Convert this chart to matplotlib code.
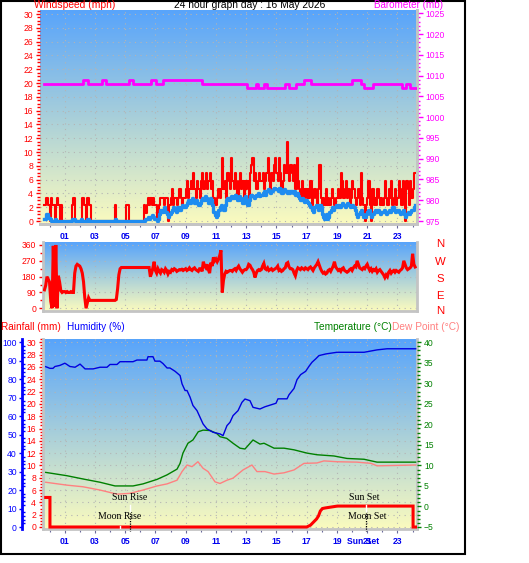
import numpy as np
import matplotlib
matplotlib.use("Agg")
import matplotlib.pyplot as plt
from matplotlib.colors import LinearSegmentedColormap
from matplotlib.ticker import MultipleLocator, FixedLocator, NullFormatter
from matplotlib.patches import Rectangle
from matplotlib.transforms import blended_transform_factory

# ---------------- data ----------------
title = "24 hour graph day : 16 May 2026"
hour_ticks = [1, 3, 5, 7, 9, 11, 13, 15, 17, 19, 21, 23]
hour_labels = ["01", "03", "05", "07", "09", "11", "13", "15", "17", "19", "21", "23"]

# 5-minute samples, first sample at 23:40 of the previous day
sample_start_h = -4 / 12
wind_gust_mph = [
    2.3, 3.4, 3.4, 2.3,
    0, 3.4, 2.3, 2.3, 0, 2.3, 3.4, 2.3, 0, 2.3, 0, 0,
    0, 0, 0, 0, 0, 0, 2.3, 3.4, 0, 0, 0, 0,
    0, 0, 3.4, 2.3, 2.3, 0, 3.4, 2.3, 2.3, 0, 0, 0,
    0, 0, 0, 0, 0, 0, 0, 0, 0, 0, 0, 0,
    0, 0, 0, 0, 2.3, 0, 0, 0, 0, 0, 0, 0,
    0, 2.3, 2.3, 0, 0, 0, 0, 0, 0, 0, 0, 0,
    0, 0, 0, 2.3, 1.2, 2.3, 3.4, 2.3, 3.4, 2.3, 3.4, 2.3,
    2.3, 0, 0, 2.3, 3.4, 3.4, 3.4, 2.3, 3.4, 3.4, 0, 2.3,
    3.4, 4.6, 2.3, 3.4, 3.4, 2.3, 3.4, 4.6, 3.4, 2.3, 3.4, 3.4,
    4.6, 5.8, 3.4, 4.6, 5.8, 4.6, 6.9, 4.6, 3.4, 5.8, 4.6, 3.4,
    5.8, 6.9, 4.6, 5.8, 6.9, 4.6, 5.8, 6.9, 4.6, 5.8, 3.4, 2.3,
    2.3, 3.4, 4.6, 3.4, 4.6, 9.2, 4.6, 5.8, 3.4, 6.9, 5.8, 4.6,
    9.2, 5.8, 4.6, 6.9, 5.8, 3.4, 5.8, 6.9, 4.6, 5.8, 3.4, 5.8,
    4.6, 5.8, 3.4, 6.9, 8.1, 9.2, 5.8, 6.9, 4.6, 5.8, 6.9, 5.8,
    5.8, 6.9, 4.6, 5.8, 6.9, 9.2, 5.8, 4.6, 6.9, 5.8, 8.1, 9.2,
    6.9, 5.8, 9.2, 6.9, 4.6, 5.8, 8.1, 6.9, 11.5, 6.9, 5.8, 8.1,
    6.9, 5.8, 8.1, 4.6, 9.2, 5.8, 4.6, 3.4, 5.8, 4.6, 3.4, 4.6,
    3.4, 4.6, 3.4, 5.8, 2.3, 3.4, 4.6, 3.4, 2.3, 4.6, 8.1, 3.4,
    2.3, 3.4, 2.3, 4.6, 2.3, 3.4, 2.3, 3.4, 4.6, 3.4, 2.3, 3.4,
    3.4, 4.6, 3.4, 6.9, 5.8, 3.4, 4.6, 5.8, 3.4, 4.6, 2.3, 3.4,
    5.8, 4.6, 3.4, 2.3, 3.4, 4.6, 2.3, 6.9, 3.4, 2.3, 0, 2.3,
    3.4, 5.8, 2.3, 0, 4.6, 2.3, 3.4, 2.3, 4.6, 3.4, 2.3, 3.4,
    2.3, 3.4, 5.8, 3.4, 2.3, 4.6, 3.4, 5.8, 2.3, 3.4, 4.6, 2.3,
    3.4, 5.8, 4.6, 2.3, 5.8, 3.4, 0, 5.8, 4.6, 2.3, 5.8, 3.4,
    4.6, 6.9, 6.9,
]
wind_avg_mph = [
    0.3, 1.0, 1.0, 0.5,
    0.3, 0, 0, 0, 0.3, 0, 0, 0, 0, 0, 0, 0,
    0, 0, 0, 0, 0, 0, 0.3, 0.3, 0, 0, 0, 0,
    0, 0.3, 0, 0, 0, 0, 0.3, 0, 0, 0, 0, 0,
    0, 0, 0, 0, 0, 0, 0, 0, 0, 0, 0, 0,
    0, 0, 0, 0, 0.3, 0, 0, 0, 0, 0, 0, 0,
    0, 0, 0, 0, 0, 0, 0, 0, 0, 0, 0, 0,
    0, 0, 0, 0, 0.3, 0.3, 0.6, 0.3, 0.6, 0.9, 0.6, 0.3,
    0.3, 0, 0.3, 1.0, 1.6, 1.3, 1.6, 2.0, 1.3, 1.0, 0.6, 1.0,
    1.3, 1.6, 2.0, 1.6, 1.3, 2.0, 2.0, 1.6, 2.0, 2.3, 2.0, 2.0,
    2.3, 2.6, 3.0, 2.6, 3.0, 3.3, 3.0, 2.6, 3.0, 2.6, 2.3, 2.6,
    3.0, 3.3, 3.0, 3.6, 3.3, 3.0, 2.6, 3.3, 3.0, 2.3, 1.3, 0.9,
    0.6, 0.9, 1.6, 2.0, 2.3, 2.0, 1.6, 2.3, 3.0, 3.3, 3.0, 3.3,
    3.6, 3.3, 3.6, 3.8, 3.3, 3.0, 3.6, 3.3, 3.0, 2.6, 3.3, 3.6,
    3.0, 2.3, 3.0, 3.6, 3.8, 3.6, 3.3, 3.6, 3.8, 4.0, 3.6, 3.8,
    3.8, 4.0, 4.3, 3.8, 4.3, 4.6, 4.3, 4.0, 4.3, 4.6, 4.8, 4.6,
    4.6, 4.3, 4.8, 4.6, 4.0, 4.3, 4.6, 4.3, 4.0, 4.3, 4.0, 4.3,
    4.3, 4.0, 4.3, 3.8, 4.0, 3.6, 3.3, 3.0, 3.3, 3.0, 2.8, 3.0,
    2.8, 2.6, 2.3, 2.0, 1.6, 1.3, 2.0, 2.3, 2.0, 1.6, 2.3, 2.0,
    1.0, 0.6, 0.3, 1.0, 0.3, 0.6, 1.3, 1.6, 2.0, 1.6, 2.0, 2.3,
    2.0, 2.3, 2.0, 2.3, 2.6, 2.3, 2.0, 2.3, 2.6, 2.3, 2.0, 2.3,
    2.3, 2.0, 1.6, 1.0, 0.6, 1.0, 1.3, 1.6, 1.0, 0.6, 0.6, 1.0,
    1.3, 1.6, 1.0, 0.6, 1.0, 1.3, 1.6, 1.3, 1.6, 1.3, 1.0, 1.3,
    1.3, 1.6, 1.3, 1.0, 1.3, 1.6, 1.3, 1.6, 2.0, 1.6, 1.3, 1.6,
    1.6, 1.3, 1.0, 1.3, 1.6, 1.0, 0.6, 1.0, 1.3, 1.0, 1.3, 1.6,
    1.6, 2.0, 2.3,
]
wind_dir_deg = [
    105, 130, 180, 165,
    150, 40, 0, 355, 10, 360, 0, 185, 150, 100, 90, 95,
    95, 90, 95, 90, 90, 95, 90, 90, 200, 240, 250, 245,
    240, 225, 200, 150, 60, 0, 30, 60, 45, 45, 45, 45,
    45, 45, 45, 45, 45, 45, 45, 45, 45, 45, 45, 45,
    45, 45, 45, 45, 45, 50, 110, 190, 225, 232, 232, 232,
    232, 232, 232, 232, 232, 232, 232, 232, 232, 232, 232, 232,
    232, 232, 232, 232, 232, 232, 232, 232, 180, 200, 230, 265,
    215, 200, 225, 210, 200, 220, 215, 205, 225, 215, 195, 210,
    205, 220, 215, 225, 220, 210, 215, 220, 218, 222, 215, 220,
    225, 215, 220, 230, 220, 215, 225, 230, 220, 215, 210, 225,
    225, 210, 265, 240, 230, 250, 220, 200, 260, 240, 290, 270,
    280, 265, 280, 300, 330, 90, 160, 195, 210, 205, 210, 215,
    215, 210, 220, 225, 215, 230, 240, 225, 215, 205, 215, 220,
    220, 230, 250, 245, 230, 220, 205, 175, 200, 215, 220, 215,
    220, 240, 255, 225, 220, 230, 215, 220, 225, 215, 220, 225,
    230, 240, 215, 220, 210, 215, 225, 230, 255, 260, 235, 225,
    225, 220, 200, 185, 215, 230, 225, 220, 230, 225, 220, 230,
    225, 220, 230, 235, 225, 215, 230, 240, 250, 265, 245, 225,
    210, 200, 205, 195, 200, 215, 220, 210, 225, 240, 265, 235,
    225, 215, 220, 210, 225, 230, 215, 210, 205, 210, 220, 225,
    215, 230, 240, 235, 270, 250, 230, 225, 220, 230, 225, 240,
    250, 230, 215, 225, 210, 220, 215, 225, 205, 215, 220, 210,
    200, 190, 175, 190, 180, 205, 215, 200, 210, 215, 205, 215,
    210, 205, 215, 220, 230, 270, 250, 230, 220, 225, 230, 240,
    310, 250, 235,
]

baro_hours = [-0.38, 2.23, 2.53, 3.44, 3.75, 5.24, 5.53, 6.72, 7.01, 7.49, 10.05,
              13.07, 13.62, 13.77, 14.21, 14.39, 15.58, 15.80, 16.31, 16.81, 17.30,
              19.98, 20.60, 20.77, 21.37, 23.31, 23.58, 23.84, 24.24]
baro_mb = [1008, 1009, 1008, 1009, 1008, 1009, 1008, 1009, 1008, 1009, 1008,
           1007, 1008, 1007, 1008, 1007, 1008, 1007, 1008, 1009, 1008,
           1009, 1008, 1007, 1008, 1007, 1008, 1007, 1007]

hum_hours = [-0.25, 0.03, 0.23, 0.36, 0.69, 1.02, 1.35, 1.69, 2.02, 2.35, 2.88, 3.34,
             3.80, 4.00, 4.46, 4.66, 5.52, 5.78, 6.44, 6.51, 6.84, 6.97, 7.30, 7.50,
             7.77, 7.96, 8.30, 8.63, 8.76, 8.96, 9.09, 9.29, 9.48, 9.75, 9.95, 10.15,
             10.41, 10.81, 11.27, 11.47, 11.73, 11.93, 12.13, 12.46, 12.72, 12.92,
             13.25, 13.45, 13.91, 14.24, 14.97, 15.10, 15.70, 15.83, 16.16, 16.36,
             16.60, 16.93, 17.15, 17.35, 17.59, 17.81, 18.26, 19.00, 20.79, 21.65,
             22.31, 24.20]
hum_pct = [86.8, 85.9, 85.9, 86.9, 87.5, 88.7, 86.9, 86.5, 88.2, 85.6, 85.6, 86.5,
           86.5, 88.0, 88.0, 89.5, 89.5, 90.4, 90.4, 92.2, 92.2, 89.8, 89.8, 88.5,
           86.1, 86.1, 84.3, 82.0, 77.5, 73.9, 73.9, 70.3, 65.8, 63.0, 59.4, 55.8,
           53.1, 51.3, 50.4, 49.5, 54.9, 56.7, 60.3, 63.0, 67.5, 69.3,
           68.4, 64.8, 63.9, 65.1, 67.0, 69.4, 69.4, 71.6, 75.0, 79.8,
           82.5, 84.3, 87.0, 89.2, 91.0, 92.8, 93.7, 94.6, 94.6, 95.9,
           96.5, 96.5]

temp_hours = [-0.25, 1.14, 2.21, 3.34, 4.33, 5.52, 6.18, 7.11, 7.77, 8.43, 8.63, 8.82,
              9.15, 9.48, 9.83, 10.15, 10.61, 11.05, 11.27, 11.71, 12.13, 12.59, 12.92,
              13.45, 13.91, 14.18, 14.84, 15.50, 16.16, 17.02, 17.68, 18.80, 19.66,
              20.79, 21.65, 24.20]
temp_c = [8.3, 7.5, 6.7, 5.9, 5.0, 5.0, 5.5, 6.6, 7.7, 9.1, 10.5, 13.0,
          15.4, 16.2, 18.2, 18.6, 18.5, 17.8, 17.0, 16.6, 15.4, 14.2, 14.0,
          16.2, 15.2, 15.4, 14.2, 14.2, 13.8, 13.0, 12.6, 12.3, 11.7,
          11.5, 10.8, 10.8]

dew_hours = [-0.25, 1.14, 2.21, 3.34, 4.46, 5.32, 6.18, 7.11, 7.77, 8.43, 8.76, 9.09,
             9.42, 9.81, 10.15, 10.48, 10.94, 11.27, 11.73, 12.13, 12.79, 13.38, 13.71,
             14.24, 14.84, 15.50, 16.16, 16.82, 17.68, 18.14, 19.00, 20.32, 21.25,
             21.65, 24.20]
dew_c = [5.9, 5.2, 4.8, 4.0, 3.0, 3.2, 4.0, 5.0, 5.5, 6.4, 8.5, 10.1,
         9.7, 10.9, 9.3, 8.5, 6.0, 5.6, 6.4, 6.9, 8.9, 10.1, 8.5,
         8.5, 7.9, 8.2, 8.9, 10.5, 10.6, 11.1, 10.9, 10.8, 10.5,
         9.9, 10.1]

rain_hours = [-0.25, 0.03, 0.03, 17.00, 17.25, 17.45, 17.65, 17.78, 17.90, 18.04,
              18.24, 19.03, 24.03, 24.03, 24.20]
rain_mm = [4.8, 4.8, 0, 0, 0.3, 0.8, 1.3, 1.8, 2.6, 3.0, 3.1, 3.4, 3.4, 0, 0]

sun_rise_h, moon_rise_h = 5.32, 4.66
sun_set_h, moon_set_h = 20.90, 20.98

# ---------------- layout helpers ----------------
W, H = 529, 563
X0, PXH = 49.5, 15.13          # pixel of hour 0, pixels per hour
PT = 72 / 100                   # points per pixel
fig = plt.figure(figsize=(W / 100, H / 100), dpi=100)
fig.patch.set_facecolor("white")


def box(x0, y0, x1, y1):
    return [x0 / W, 1 - y1 / H, (x1 - x0) / W, (y1 - y0) / H]


def h_at(px):
    return (px - X0) / PXH


def fy(py):
    return 1 - py / H


grad = LinearSegmentedColormap.from_list("bg", ["#FBFBBE", "#A8CFDA", "#58A4FB"])
GRID = dict(color="#b4b4b4", lw=0.8, ls=(0, (1, 4)))
SANS = "Liberation Sans"
BLUE_LBL = "#0000EE"
TFS = 7.4


def background(ax):
    g = np.linspace(0, 1, 256).reshape(-1, 1)
    ax.imshow(g, extent=[0, 1, 0, 1], transform=ax.transAxes, aspect="auto",
              cmap=grad, origin="lower", zorder=0, interpolation="bicubic")


def frame_spines(ax, sides=("right", "bottom", "left")):
    for s in ("top", "right", "bottom", "left"):
        ax.spines[s].set_visible(s in sides)
        ax.spines[s].set_color("#c4c4c4")
        ax.spines[s].set_linewidth(2)


def xaxis_hours(ax, labels=True):
    ax.xaxis.set_major_locator(FixedLocator(hour_ticks))
    ax.xaxis.set_minor_locator(MultipleLocator(1))
    if labels:
        ax.set_xticklabels(hour_labels)
    else:
        ax.xaxis.set_major_formatter(NullFormatter())
    ax.tick_params(axis="x", which="major", length=3, width=0.8, color="#6a6a9a",
                   labelcolor=BLUE_LBL, labelsize=6.2, pad=3)
    ax.tick_params(axis="x", which="minor", length=2, width=0.8, color="#6a6a9a")
    for t in ax.get_xticklabels():
        t.set_fontweight("bold")
        t.set_fontfamily(SANS)
    ax.xaxis.grid(True, which="major", **GRID)


t = sample_start_h + np.arange(len(wind_gust_mph)) / 12.0

# ---------------- top panel: wind + barometer ----------------
ax1 = fig.add_axes(box(40, 10, 417, 224))
background(ax1)
ax1.set_xlim(h_at(40), h_at(417))
ax1.set_ylim(-0.43, 30.58)
frame_spines(ax1, ("right", "bottom"))
ax1.yaxis.set_major_locator(MultipleLocator(2))
ax1.yaxis.set_minor_locator(MultipleLocator(0.5))
ax1.tick_params(axis="y", which="major", colors="red", labelsize=6.2, length=3, width=1, pad=2)
ax1.tick_params(axis="y", which="minor", colors="red", length=2, width=1)
ax1.yaxis.grid(True, which="major", **GRID)
ax1.set_axisbelow(False)
xaxis_hours(ax1)
ax1.step(t, wind_gust_mph, where="post", color="#ff0000", lw=1.5, zorder=3)
ax1.step(t, wind_avg_mph, where="post", color="#1e8cf0", lw=2.4, zorder=4)

ax1b = ax1.twinx()
ax1b.set_ylim(974.28, 1025.8)
ax1b.set_xlim(h_at(40), h_at(417))
frame_spines(ax1b, ("right", "bottom"))
ax1b.yaxis.set_major_locator(MultipleLocator(5))
ax1b.yaxis.set_minor_locator(MultipleLocator(1))
ax1b.tick_params(axis="y", which="major", colors="#ff00ff", labelsize=6.2, length=4, width=1, pad=2)
ax1b.tick_params(axis="y", which="minor", colors="#ff00ff", length=2, width=1)
ax1b.step(baro_hours, baro_mb, where="post", color="#ff00ff", lw=2.0, zorder=5)

fig.text(34 / W, fy(5), "Windspeed (mph)", color="red", fontsize=TFS, family=SANS, va="center")
fig.text(250 / W, fy(5), title, color="black", fontsize=TFS, family=SANS, va="center", ha="center")
fig.text(443 / W, fy(5), "Barometer (mb)", color="#ff00ff", fontsize=7.1, family=SANS,
         va="center", ha="right")

# ---------------- middle panel: wind direction ----------------
ax2 = fig.add_axes(box(43, 242, 417, 311))
background(ax2)
ax2.set_xlim(h_at(43), h_at(417))
ax2.set_ylim(-15.4, 377)
frame_spines(ax2)
ax2.yaxis.set_major_locator(FixedLocator([0, 90, 180, 270, 360]))
ax2.yaxis.set_minor_locator(MultipleLocator(45))
ax2.tick_params(axis="y", which="major", colors="red", labelsize=6.2, length=3, width=1, pad=2)
ax2.tick_params(axis="y", which="minor", colors="red", length=2, width=1)
ax2.yaxis.grid(True, which="major", **GRID)
xaxis_hours(ax2, labels=False)
ax2.tick_params(axis="x", which="both", length=0)
ax2.plot(t, wind_dir_deg, color="#ff0000", lw=2.2, zorder=3, solid_joinstyle="miter")
for lbl, py in zip(["N", "W", "S", "E", "N"], [244, 262, 279, 296, 311]):
    fig.text(440 / W, fy(py), lbl, color="red", fontsize=8.2, family=SANS, ha="center", va="center")

# ---------------- bottom panel: rain, humidity, temperature ----------------
ax3 = fig.add_axes(box(43, 339, 417, 529))
background(ax3)
ax3.set_xlim(h_at(43), h_at(417))
ax3.set_ylim(-0.325, 30.54)
frame_spines(ax3)
ax3.yaxis.set_major_locator(MultipleLocator(2))
ax3.yaxis.set_minor_locator(MultipleLocator(0.5))
ax3.tick_params(axis="y", which="major", colors="red", labelsize=6.2, length=3, width=1, pad=2)
ax3.tick_params(axis="y", which="minor", colors="red", length=2, width=1)
ax3.yaxis.grid(True, which="major", **GRID)
xaxis_hours(ax3)
ax3.tick_params(axis="x", which="major", pad=2.5)

ax3t = ax3.twinx()
ax3t.set_ylim(-5.49, 40.8)
frame_spines(ax3t, ())
ax3t.yaxis.set_major_locator(MultipleLocator(5))
ax3t.yaxis.set_minor_locator(MultipleLocator(1))
ax3t.tick_params(axis="y", which="major", colors="green", labelsize=6.2, length=3, width=1, pad=2)
ax3t.tick_params(axis="y", which="minor", colors="green", length=2, width=1)
ax3t.plot(temp_hours, temp_c, color="#008000", lw=1.0, zorder=3)
ax3t.plot(dew_hours, dew_c, color="#ff8080", lw=1.0, zorder=3)

ax3h = ax3.twinx()
ax3h.set_ylim(-1.08, 101.79)
frame_spines(ax3h, ("left",))
ax3h.spines["left"].set_position(("outward", 21 * PT))
ax3h.spines["left"].set_color("#0000ff")
ax3h.yaxis.set_ticks_position("left")
ax3h.yaxis.set_label_position("left")
ax3h.yaxis.set_major_locator(MultipleLocator(10))
ax3h.yaxis.set_minor_locator(MultipleLocator(2))
ax3h.tick_params(axis="y", which="major", colors="#0000ff", labelsize=6.2, length=2.5, width=1, pad=1.2,
                 direction="out")
ax3h.tick_params(axis="y", which="minor", colors="#0000ff", length=2, width=1, direction="in")
ax3h.plot(hum_hours, hum_pct, color="#0000e0", lw=1.0, zorder=4)

ax3r = ax3.twinx()
ax3r.set_ylim(-0.325, 30.54)
ax3r.axis("off")
ax3r.plot(rain_hours, rain_mm, color="#ff0000", lw=2.2, zorder=5, solid_joinstyle="miter")

for ax in (ax1, ax1b, ax2, ax3, ax3t, ax3h):
    for tl in ax.get_yticklabels():
        tl.set_fontfamily(SANS)

# sun / moon annotations
tr = blended_transform_factory(ax3r.transData, fig.transFigure)
SERIF = "Liberation Serif"
ax3r.text(sun_rise_h, fy(497.7), "Sun Rise", transform=tr, ha="center", va="center",
          fontsize=7, family=SERIF, zorder=6)
ax3r.text(moon_rise_h, fy(516.7), "Moon Rise", transform=tr, ha="center", va="center",
          fontsize=7, family=SERIF, zorder=6)
ax3r.text(sun_set_h - 0.1, fy(497.7), "Sun Set", transform=tr, ha="center", va="center",
          fontsize=7, family=SERIF, zorder=6)
ax3r.text(moon_set_h, fy(516.7), "Moon Set", transform=tr, ha="center", va="center",
          fontsize=7, family=SERIF, zorder=6)
for h in (sun_rise_h, sun_set_h):
    ax3r.plot([h, h], [fy(505), fy(511)], transform=tr, color="white", lw=1, zorder=6)
    ax3r.plot([h, h], [fy(513), fy(531)], transform=tr, color="black", lw=0.9, ls=(0, (1, 1)),
              zorder=7, clip_on=False)
ax3r.plot([moon_rise_h, moon_rise_h], [fy(526), fy(529)], transform=tr, color="white", lw=1, zorder=6)
ax3r.text(sun_set_h - 0.15, fy(541), "Sun Set", transform=tr, ha="center", va="center",
          fontsize=6.2, family=SANS, color=BLUE_LBL, fontweight="bold")

fig.text(1 / W, fy(326.5), "Rainfall (mm)", color="red", fontsize=7.2, family=SANS, va="center")
fig.text(67 / W, fy(326.5), "Humidity (%)", color="blue", fontsize=7.2, family=SANS, va="center")
fig.text(392 / W, fy(326.5), "Temperature (°C)", color="green", fontsize=7.3, family=SANS,
         va="center", ha="right")
fig.text(392 / W, fy(326.5), "Dew Point (°C)", color="#ff8080", fontsize=7.3, family=SANS,
         va="center", ha="left")

# outer frame
fig.add_artist(Rectangle((0.5 / W, fy(554)), 464.5 / W, 553.5 / H, transform=fig.transFigure,
                         fill=False, ec="black", lw=1.5))

fig.savefig("out.png", dpi=100)
